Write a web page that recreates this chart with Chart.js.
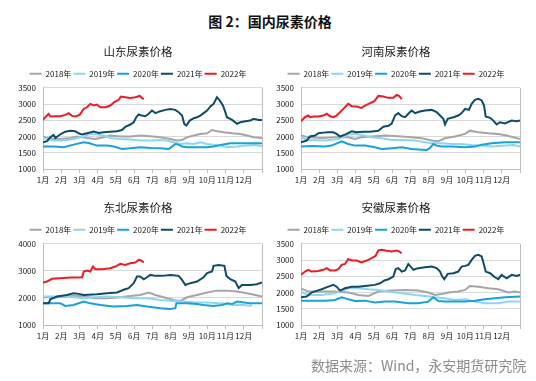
<!DOCTYPE html>
<html>
<head>
<meta charset="utf-8">
<script src="https://cdn.jsdelivr.net/npm/chart.js@4/dist/chart.umd.min.js"></script>
<style>
  html, body { margin: 0; padding: 0; background: #fff; }
  body { width: 536px; height: 381px; position: relative; overflow: hidden; font-family: "Noto Sans CJK SC", "Noto Sans", sans-serif; }
  canvas { position: absolute; }
  #mainTitle { position: absolute; left: 0; top: 12px; width: 540px; text-align: center; font-weight: bold; font-size: 14px; line-height: 18px; color: #111; }
  #source { position: absolute; left: 311px; top: 356px; font-size: 14px; line-height: 18px; color: #8c8c8c; white-space: nowrap; }
</style>
</head>
<body>
<div id="mainTitle">图 2：国内尿素价格</div>
<canvas id="c1" width="264" height="152" style="left:0px;top:40px"></canvas>
<canvas id="c2" width="264" height="152" style="left:258px;top:40px"></canvas>
<canvas id="c3" width="264" height="152" style="left:0px;top:196px"></canvas>
<canvas id="c4" width="264" height="152" style="left:258px;top:196px"></canvas>
<div id="source">数据来源：Wind，永安期货研究院</div>
<script>
// ---- labels ----
const monthLabels = ['1月','2月','3月','4月','5月','6月','7月','8月','9月','10月','11月','12月'];
const years = ['2018年','2019年','2020年','2021年','2022年'];
const chartTitles = ['山东尿素价格','河南尿素价格','东北尿素价格','安徽尿素价格'];

// ---- data: [month position (0 = 1月1日, 12 = 年末), price] ----
// 山东
const sd2018 = [[0,2000],[0.40,1925],[0.95,1925],[1.50,1955],[1.86,2000],[2.41,1955],[2.87,1925],[3.32,1975],[3.69,2030],[4.24,2000],[4.79,2000],[5.33,2030],[5.88,2010],[6.43,1975],[6.98,1925],[7.34,1875],[7.62,1895],[7.89,1975],[8.26,2030],[8.62,2080],[8.99,2100],[9.26,2200],[9.53,2160],[9.90,2130],[10.36,2100],[10.81,2080],[11.18,2030],[11.54,1975],[12,1955]];
const sd2019 = [[0,1955],[0.58,1875],[1.13,1875],[1.68,1925],[2.23,2000],[2.59,2080],[2.96,2060],[3.32,2030],[3.69,1955],[4.24,1925],[4.79,1905],[5.33,1875],[5.88,1875],[6.43,1895],[6.79,1875],[7.16,1825],[7.53,1770],[7.89,1790],[8.26,1770],[8.62,1825],[8.99,1770],[9.35,1750],[9.72,1720],[10.08,1670],[10.63,1690],[11.18,1720],[11.63,1740],[12,1700]];
const sd2020 = [[0,1690],[0.58,1690],[1.13,1670],[1.68,1750],[2.23,1825],[2.50,1800],[2.96,1720],[3.51,1720],[3.87,1690],[4.33,1615],[4.79,1640],[5.33,1670],[5.88,1650],[6.43,1640],[6.89,1615],[7.07,1690],[7.25,1770],[7.43,1750],[7.62,1690],[7.89,1670],[8.44,1670],[8.99,1670],[9.35,1690],[9.81,1750],[10.26,1790],[10.81,1790],[11.36,1790],[12,1790]];
const sd2021 = [[0,1820],[0.22,1855],[0.40,1975],[0.58,2050],[0.68,1955],[0.86,2030],[1.04,2100],[1.22,2150],[1.50,2180],[1.77,2160],[1.95,2100],[2.14,2060],[2.41,2100],[2.78,2150],[3.05,2110],[3.32,2130],[3.69,2150],[4.05,2160],[4.33,2200],[4.51,2300],[4.79,2370],[4.97,2440],[5.11,2595],[5.24,2680],[5.42,2645],[5.61,2625],[5.79,2700],[5.97,2800],[6.16,2720],[6.43,2780],[6.70,2820],[6.98,2850],[7.25,2820],[7.43,2750],[7.62,2645],[7.74,2390],[7.85,2340],[8.04,2490],[8.26,2565],[8.44,2595],[8.62,2645],[8.80,2720],[8.99,2800],[9.17,2925],[9.35,3005],[9.53,3210],[9.68,3110],[9.86,2955],[9.99,2750],[10.08,2595],[10.36,2510],[10.63,2390],[10.81,2440],[11.09,2470],[11.36,2490],[11.54,2545],[11.82,2510],[12,2510]];
const sd2022 = [[0,2510],[0.13,2595],[0.31,2700],[0.40,2615],[0.68,2625],[0.95,2625],[1.22,2665],[1.41,2720],[1.59,2635],[1.77,2615],[2.01,2665],[2.23,2850],[2.41,2900],[2.59,3005],[2.78,2955],[2.96,2985],[3.14,2900],[3.42,2900],[3.69,2955],[3.91,3060],[4.15,3130],[4.27,3230],[4.51,3210],[4.79,3190],[5.06,3210],[5.30,3250],[5.42,3190],[5.52,3150]];
// 河南
const hn2018 = [[0,2030],[0.40,1975],[1.13,1955],[1.86,1975],[2.59,1975],[2.96,1925],[3.32,1975],[3.87,2000],[4.60,2030],[5.33,2010],[6.06,1975],[6.61,1945],[7.16,1875],[7.53,1855],[7.89,1945],[8.44,2000],[8.99,2080],[9.26,2180],[9.72,2130],[10.26,2100],[10.81,2080],[11.27,2030],[11.63,1975],[12,1925]];
const hn2019 = [[0,1975],[0.40,1895],[1.31,1875],[2.05,1925],[2.59,2060],[2.96,2080],[3.32,2050],[3.87,1975],[4.42,1945],[4.97,1895],[5.70,1895],[6.25,1875],[6.79,1825],[7.16,1790],[7.71,1790],[8.26,1770],[8.80,1770],[9.35,1740],[9.90,1720],[10.45,1690],[11.18,1720],[11.63,1740],[12,1690]];
const hn2020 = [[0,1690],[0.58,1710],[1.31,1690],[1.68,1720],[2.23,1855],[2.59,1770],[2.96,1720],[3.51,1720],[4.05,1670],[4.42,1615],[4.97,1640],[5.52,1670],[6.06,1615],[6.61,1595],[6.89,1585],[7.07,1650],[7.25,1770],[7.43,1720],[7.71,1690],[8.26,1690],[8.99,1670],[9.53,1690],[9.90,1750],[10.45,1790],[11.18,1825],[12,1825]];
const hn2021 = [[0,1825],[0.31,1875],[0.49,2000],[0.77,2030],[0.95,2100],[1.22,2120],[1.50,2130],[1.77,2130],[1.95,2080],[2.14,2000],[2.41,2060],[2.78,2160],[3.05,2130],[3.42,2150],[3.78,2150],[4.24,2180],[4.51,2300],[4.79,2330],[4.97,2400],[5.15,2645],[5.33,2720],[5.52,2625],[5.70,2595],[5.88,2700],[6.06,2800],[6.25,2720],[6.52,2770],[6.79,2800],[7.16,2820],[7.43,2750],[7.62,2645],[7.80,2545],[7.89,2370],[8.04,2545],[8.35,2595],[8.62,2645],[8.80,2720],[8.99,2850],[9.20,2820],[9.35,3005],[9.53,3130],[9.72,3160],[9.90,3110],[10.03,2955],[10.12,2615],[10.36,2575],[10.54,2490],[10.72,2370],[10.90,2440],[11.18,2400],[11.54,2490],[11.82,2470],[12,2490]];
const hn2022 = [[0,2470],[0.22,2595],[0.40,2645],[0.49,2595],[0.68,2615],[0.95,2615],[1.22,2645],[1.41,2700],[1.59,2625],[1.77,2595],[1.95,2645],[2.14,2750],[2.32,2850],[2.59,3005],[2.78,2935],[3.05,2925],[3.32,2880],[3.51,2955],[3.78,3030],[4.02,3090],[4.24,3250],[4.51,3230],[4.79,3190],[5.06,3190],[5.24,3280],[5.37,3250],[5.52,3150]];
// 东北
const db2018 = [[0,2025],[0.77,2025],[1.68,2075],[2.23,2075],[2.78,1990],[3.51,1990],[4.24,2025],[4.79,2075],[5.33,2110],[5.79,2200],[6.16,2110],[6.61,2025],[7.16,1925],[7.53,1890],[7.89,2025],[8.44,2110],[8.99,2200],[9.53,2270],[10.08,2270],[10.63,2235],[11.18,2175],[11.63,2110],[12,2050]];
const db2019 = [[0,2050],[0.95,2050],[1.68,2025],[2.23,1990],[2.78,2025],[3.51,2050],[4.24,2025],[4.97,1990],[5.70,1990],[6.43,1925],[7.16,1890],[7.71,1865],[8.26,1840],[8.99,1830],[9.72,1800],[10.45,1740],[11.00,1740],[11.36,1715],[11.45,1740]];
const db2020 = [[0,1800],[0.40,1800],[0.95,1800],[1.22,1705],[1.68,1740],[2.23,1865],[2.59,1800],[3.14,1740],[3.87,1680],[4.60,1705],[5.15,1740],[5.70,1680],[6.43,1620],[6.98,1595],[7.25,1620],[7.31,1800],[7.89,1800],[8.44,1775],[8.80,1740],[9.35,1705],[9.81,1740],[10.08,1800],[10.36,1775],[10.63,1865],[11.00,1830],[11.36,1800],[12,1800]];
const db2021 = [[0,1800],[0.31,1800],[0.40,1950],[0.77,2050],[1.31,2110],[1.68,2175],[1.95,2150],[2.23,2110],[2.96,2135],[3.51,2175],[4.05,2200],[4.42,2300],[4.69,2360],[4.97,2545],[5.15,2790],[5.33,2790],[5.52,2690],[5.70,2765],[5.88,2850],[6.16,2815],[6.52,2815],[6.98,2850],[7.43,2815],[7.62,2665],[7.80,2480],[8.07,2545],[8.44,2605],[8.80,2765],[8.99,2915],[9.26,2975],[9.35,3185],[9.63,3220],[9.94,3185],[10.05,2815],[10.26,2690],[10.54,2605],[10.72,2360],[10.90,2480],[11.36,2480],[11.72,2505],[12,2570]];
const db2022 = [[0,2570],[0.22,2605],[0.49,2705],[0.95,2730],[1.50,2755],[1.86,2755],[2.14,2765],[2.23,2975],[2.41,3010],[2.59,2975],[2.74,3160],[2.87,3060],[3.23,3060],[3.69,3100],[3.96,3160],[4.24,3260],[4.51,3220],[4.79,3285],[5.06,3310],[5.24,3410],[5.37,3385],[5.52,3310]];
// 安徽
const ah2018 = [[0,2130],[0.40,2030],[1.13,2030],[1.86,2030],[2.59,2000],[3.14,1925],[3.69,1895],[4.24,2030],[4.97,2060],[5.70,2080],[6.43,2060],[6.98,2000],[7.34,1925],[7.71,1955],[8.07,2000],[8.62,2030],[8.99,2080],[9.26,2200],[9.72,2180],[10.26,2130],[10.81,2100],[11.36,2000],[11.72,2030],[12,2000]];
const ah2019 = [[0,2030],[0.40,1925],[1.13,1925],[1.86,1975],[2.59,2130],[3.14,2130],[3.69,2100],[4.24,2080],[4.79,2030],[5.52,1975],[6.25,1925],[6.79,1895],[7.34,1855],[7.89,1825],[8.44,1770],[8.99,1790],[9.53,1720],[10.08,1670],[10.81,1670],[11.36,1720],[12,1720]];
const ah2020 = [[0,1750],[0.58,1750],[1.31,1750],[1.86,1770],[2.23,1855],[2.59,1790],[2.96,1740],[3.51,1750],[4.05,1690],[4.60,1720],[5.15,1720],[5.88,1670],[6.43,1670],[6.98,1720],[7.25,1855],[7.53,1740],[7.89,1720],[8.44,1720],[8.99,1720],[9.53,1750],[10.08,1790],[10.63,1825],[11.18,1855],[12,1875]];
const ah2021 = [[0,1855],[0.31,1875],[0.58,2000],[0.86,2050],[1.13,2100],[1.50,2180],[1.77,2235],[1.95,2180],[2.14,2060],[2.41,2130],[2.78,2180],[3.14,2180],[3.51,2200],[4.05,2235],[4.33,2285],[4.57,2370],[4.79,2410],[5.06,2490],[5.19,2720],[5.33,2750],[5.52,2645],[5.70,2680],[5.88,2880],[6.16,2700],[6.43,2750],[6.79,2780],[7.16,2800],[7.43,2750],[7.62,2645],[7.74,2490],[7.85,2410],[8.04,2575],[8.35,2595],[8.62,2645],[8.80,2800],[8.99,2820],[9.17,2850],[9.35,3005],[9.53,3130],[9.72,3160],[9.90,3110],[10.03,2850],[10.12,2645],[10.36,2595],[10.63,2470],[10.81,2410],[10.99,2545],[11.27,2440],[11.54,2545],[11.82,2510],[12,2545]];
const ah2022 = [[0,2545],[0.22,2645],[0.40,2700],[0.58,2645],[0.95,2665],[1.22,2700],[1.41,2750],[1.59,2680],[1.86,2680],[2.05,2720],[2.23,2850],[2.41,2880],[2.59,3030],[2.78,2985],[3.05,2985],[3.32,2925],[3.60,2985],[3.87,3060],[4.09,3130],[4.24,3295],[4.42,3315],[4.69,3285],[4.97,3265],[5.24,3295],[5.37,3265],[5.52,3210]];

// ---- y-axis tick ranges ----
const yRangeA = [1000, 3500, 500];
const yRangeB = [1000, 4000, 1000];

// ---- styles ----
const colors = ['#A6A6A6', '#8ED5F5', '#17A2DC', '#0F4C66', '#EC1C24'];
Chart.defaults.font.family = '"Noto Sans CJK SC", "Noto Sans", sans-serif';
Chart.defaults.color = '#222';

function makeChart(canvasId, title, seriesList, yr) {
  const datasets = seriesList.map((s, i) => ({
    label: years[i],
    data: s.map(p => ({ x: p[0], y: p[1] })),
    borderColor: colors[i],
    backgroundColor: colors[i],
    borderWidth: 2,
    pointRadius: 0,
    pointHoverRadius: 0,
    pointStyle: 'line',
    tension: 0,
    fill: false,
    order: seriesList.length - 1 - i
  }));
  return new Chart(document.getElementById(canvasId), {
    type: 'line',
    data: { datasets },
    options: {
      responsive: false,
      devicePixelRatio: 1,
      animation: false,
      events: [],
      layout: { padding: { top: 3, right: 2, left: 14, bottom: 0 } },
      plugins: {
        title: {
          display: true, text: title, color: '#1a1a1a',
          font: { size: 11.5, weight: 'normal' },
          padding: { top: 2, bottom: 9 }
        },
        legend: {
          display: true, position: 'top',
          labels: {
            usePointStyle: true, pointStyleWidth: 12, boxHeight: 8,
            font: { size: 8 }, color: '#1a1a1a', padding: 2,
            sort: (a, b) => a.datasetIndex - b.datasetIndex
          }
        },
        tooltip: { enabled: false }
      },
      scales: {
        x: {
          type: 'linear', min: 0, max: 12,
          afterFit: s => { s.height = 23; },
          ticks: {
            stepSize: 1, autoSkip: false, maxRotation: 0, minRotation: 0,
            font: { size: 8 }, color: '#1a1a1a', padding: 2,
            callback: v => monthLabels[v] || ''
          },
          grid: {
            color: c => (c.tick && c.tick.value === 12) ? '#BFBFBF' : 'rgba(0,0,0,0)',
            tickColor: '#BFBFBF', tickLength: 4, lineWidth: 1
          },
          border: { display: true, color: '#BFBFBF', width: 1 }
        },
        y: {
          min: yr[0], max: yr[1],
          afterFit: s => { s.width = 29; },
          ticks: { stepSize: yr[2], autoSkip: false, font: { size: 8 }, color: '#1a1a1a', padding: 7, callback: v => String(v) },
          grid: { color: '#D9D9D9', drawTicks: false, lineWidth: 1 },
          border: { display: true, color: '#BFBFBF', width: 1 }
        }
      }
    }
  });
}

makeChart('c1', chartTitles[0], [sd2018, sd2019, sd2020, sd2021, sd2022], yRangeA);
makeChart('c2', chartTitles[1], [hn2018, hn2019, hn2020, hn2021, hn2022], yRangeA);
makeChart('c3', chartTitles[2], [db2018, db2019, db2020, db2021, db2022], yRangeB);
makeChart('c4', chartTitles[3], [ah2018, ah2019, ah2020, ah2021, ah2022], yRangeA);
</script>
</body>
</html>
